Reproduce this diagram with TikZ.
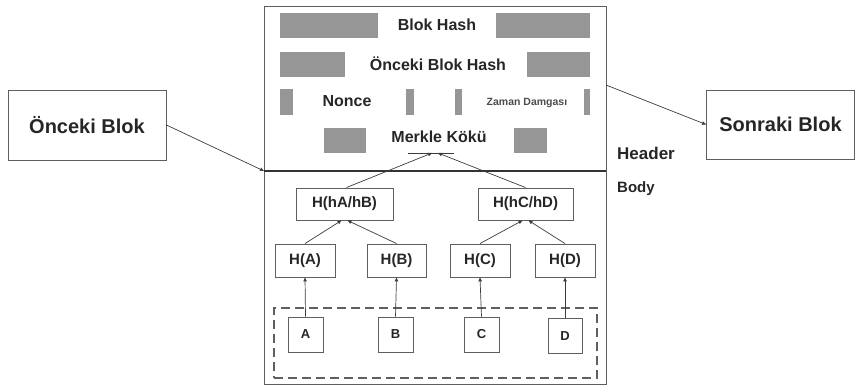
\documentclass[tikz,border=0pt]{standalone}
\usepackage{fontspec}
\setmainfont{Liberation Sans}
\usetikzlibrary{arrows.meta}
\definecolor{bordc}{RGB}{95,95,95}
\definecolor{grayc}{RGB}{150,150,150}
\definecolor{linec}{RGB}{60,60,60}
\begin{document}
\begin{tikzpicture}[x=1pt,y=-1pt,
  box/.style={draw=bordc, line width=0.9pt, inner sep=0pt},
  grayblk/.style={fill=grayc, draw=none, inner sep=0pt},
  lbl/.style={font=\bfseries\fontsize{16}{18}\selectfont, inner sep=0pt, text=black!85},
  hlbl/.style={font=\bfseries\fontsize{15}{17}\selectfont, text=black!85},
  conn/.style={draw=linec, line width=0.7pt, -{Triangle[length=4pt,width=3.5pt]}},
]
\useasboundingbox (0,0) rectangle (856,388);
% main block
\node[box, minimum width=342pt, minimum height=378pt] (main) at (435,195) {};
\coordinate (hl) at (264,171);
\coordinate (hr) at (606,171);
\draw[line width=2.2pt, draw=black!80] (hl) -- (hr);
% header gray blocks
\node[grayblk, minimum width=98pt, minimum height=25pt] (g1l) at (329,25.5) {};
\node[grayblk, minimum width=94pt, minimum height=25pt] (g1r) at (543,25.5) {};
\node[grayblk, minimum width=65pt, minimum height=25pt] (g2l) at (312.5,64.5) {};
\node[grayblk, minimum width=63pt, minimum height=25pt] (g2r) at (558.5,64.5) {};
\node[grayblk, minimum width=13pt, minimum height=26pt] (g3a) at (286.5,102) {};
\node[grayblk, minimum width=8pt, minimum height=26pt] (g3b) at (410,102) {};
\node[grayblk, minimum width=7pt, minimum height=26pt] (g3c) at (458.5,102) {};
\node[grayblk, minimum width=6pt, minimum height=26pt] (g3d) at (587,102) {};
\node[grayblk, minimum width=42pt, minimum height=25pt] (g4l) at (345,140.5) {};
\node[grayblk, minimum width=33pt, minimum height=25pt] (g4r) at (530.5,140.5) {};
% header texts
\node[lbl] (bh) at (437,25) {Blok Hash};
\node[lbl] (obh) at (438,64) {Önceki Blok Hash};
\node[lbl] (nonce) at (347,101) {Nonce};
\node[lbl, font=\bfseries\fontsize{10.5}{12}\selectfont, text=black!70] (zaman) at (527,103) {Zaman Damgası};
\node[lbl] (mk) at (439,137) {Merkle Kökü};
\coordinate (mkl) at (408,153);
\coordinate (mkr) at (454,153);
\draw[draw=linec, line width=0.8pt] (mkl) -- (mkr);
\coordinate (mk1) at (432,153);
\coordinate (mk2) at (438,153);
% body
\node[box, hlbl, minimum width=97pt, minimum height=32pt] (hab) at (344.5,204) {H(hA/hB)};
\node[box, hlbl, minimum width=95pt, minimum height=32pt] (hcd) at (525.5,204) {H(hC/hD)};
\node[box, hlbl, minimum width=60pt, minimum height=33pt] (ha) at (305,260.5) {H(A)};
\node[box, hlbl, minimum width=59pt, minimum height=33pt] (hb) at (396.5,260.5) {H(B)};
\node[box, hlbl, minimum width=60pt, minimum height=33pt] (hc) at (480,260.5) {H(C)};
\node[box, hlbl, minimum width=60pt, minimum height=33pt] (hd) at (565,260.5) {H(D)};
\node[draw=bordc, line width=1.4pt, dash pattern=on 9pt off 5pt, minimum width=323pt, minimum height=70pt, inner sep=0pt] (grp) at (435.5,343) {};
\node[box, font=\bfseries\fontsize{13}{15}\selectfont, text=black!85, minimum width=35pt, minimum height=35pt] (a) at (305.5,334.5) {A};
\node[box, font=\bfseries\fontsize{13}{15}\selectfont, text=black!85, minimum width=35pt, minimum height=35pt] (b) at (395.5,334.5) {B};
\node[box, font=\bfseries\fontsize{13}{15}\selectfont, text=black!85, minimum width=35pt, minimum height=35pt] (c) at (481.5,334.5) {C};
\node[box, font=\bfseries\fontsize{13}{15}\selectfont, text=black!85, minimum width=34pt, minimum height=35pt] (d) at (565,336) {D};
% connectors body
\draw[conn] (a.north) -- (ha.south);
\draw[conn] (b.north) -- (hb.south);
\draw[conn] (c.north) -- (hc.south);
\draw[conn] (d.north) -- (hd.south);
\draw[conn] (ha.north) -- ([xshift=-3pt]hab.south);
\draw[conn] (hb.north) -- ([xshift=3pt]hab.south);
\draw[conn] (hc.north) -- ([xshift=-3pt]hcd.south);
\draw[conn] (hd.north) -- ([xshift=3pt]hcd.south);
\draw[conn] ([xshift=2pt]hab.north) -- (mk1);
\draw[conn] (hcd.north) -- (mk2);
% side blocks
\node[box, font=\bfseries\fontsize{20}{24}\selectfont, text=black!85, minimum width=158pt, minimum height=70pt] (prev) at (87,125) {Önceki Blok};
\node[box, font=\bfseries\fontsize{20}{24}\selectfont, text=black!85, minimum width=148pt, minimum height=69pt] (next) at (780.5,124.5) {Sonraki Blok};
\coordinate (ns) at (606,85);
\draw[conn] (prev.east) -- (hl);
\draw[conn] (ns) -- (next.west);
% labels
\node[font=\bfseries\fontsize{17}{20}\selectfont, text=black!85, anchor=west, inner sep=0pt] (hdr) at (617,153) {Header};
\node[font=\bfseries\fontsize{15}{18}\selectfont, text=black!85, anchor=west, inner sep=0pt] (bdy) at (617,189) {Body};
\end{tikzpicture}
\end{document}
